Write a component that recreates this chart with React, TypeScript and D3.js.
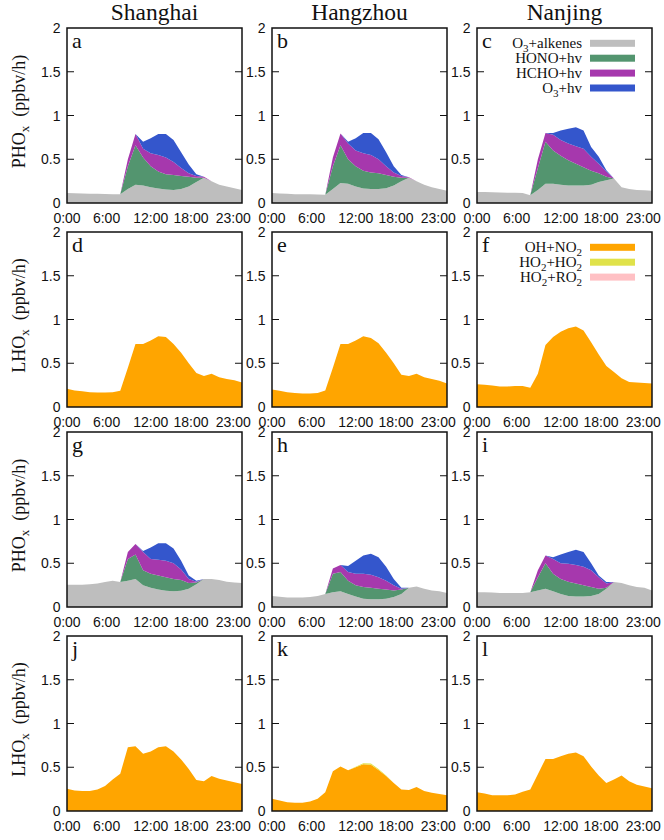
import React from 'react';
import * as d3 from 'd3';

// ---------- data ----------
const hours = [0,1,2,3,4,5,6,7,8,9,10,11,12,13,14,15,16,17,18,19,20,21,22,23];
const cities = ['Shanghai', 'Hangzhou', 'Nanjing'];
const yTicks = [0, 0.5, 1, 1.5, 2];
const yTickLabels = ['0', '0.5', '1', '1.5', '2'];
const xTickHours = [0, 5.2, 11, 16.3, 21.85];
const xTickLabels = ['0:00', '6:00', '12:00', '18:00', '23:00'];

const phoxKeys = ['O3+alkenes', 'HONO+hv', 'HCHO+hv', 'O3+hv'];
const lhoxKeys = ['OH+NO2', 'HO2+HO2', 'HO2+RO2'];

// PHOx panels a,b,c (top row)
const aAlk = [0.115,0.112,0.11,0.107,0.105,0.103,0.10,0.10,0.16,0.21,0.20,0.18,0.165,0.155,0.15,0.16,0.19,0.24,0.29,0.25,0.21,0.19,0.17,0.15];
const aHono = [0,0,0,0,0,0,0,0,0.26,0.45,0.32,0.24,0.195,0.175,0.17,0.15,0.11,0.05,0,0,0,0,0,0];
const aHcho = [0,0,0,0,0,0,0,0,0.08,0.13,0.10,0.15,0.19,0.19,0.15,0.09,0.04,0.02,0.01,0,0,0,0,0];
const aO3 = [0,0,0,0,0,0,0,0,0,0,0.08,0.17,0.24,0.27,0.25,0.18,0.10,0.02,0,0,0,0,0,0];

const bAlk = [0.115,0.11,0.105,0.10,0.10,0.10,0.098,0.095,0.16,0.23,0.22,0.19,0.165,0.16,0.16,0.17,0.20,0.25,0.29,0.25,0.21,0.18,0.16,0.14];
const bHono = [0,0,0,0,0,0,0,0,0.26,0.43,0.28,0.23,0.205,0.19,0.18,0.15,0.10,0.04,0,0,0,0,0,0];
const bHcho = [0,0,0,0,0,0,0,0,0.10,0.135,0.18,0.18,0.20,0.20,0.16,0.10,0.05,0.02,0.005,0,0,0,0,0];
const bO3 = [0,0,0,0,0,0,0,0,0,0,0.02,0.14,0.23,0.25,0.23,0.16,0.07,0.01,0,0,0,0,0,0];

const cAlk = [0.126,0.125,0.122,0.12,0.118,0.117,0.115,0.09,0.15,0.22,0.22,0.21,0.20,0.20,0.20,0.21,0.24,0.26,0.28,0.18,0.16,0.15,0.145,0.14];
const cHono = [0,0,0,0,0,0,0,0,0.25,0.48,0.38,0.33,0.29,0.25,0.21,0.16,0.10,0.04,0,0,0,0,0,0];
const cHcho = [0,0,0,0,0,0,0,0,0.10,0.10,0.18,0.18,0.19,0.20,0.21,0.16,0.11,0.06,0,0,0,0,0,0];
const cO3 = [0,0,0,0,0,0,0,0,0,0,0.02,0.11,0.17,0.215,0.21,0.11,0.08,0.015,0,0,0,0,0,0];

// LHOx panels d,e,f
const dNo2 = [0.21,0.19,0.18,0.17,0.165,0.165,0.17,0.185,0.45,0.72,0.72,0.76,0.81,0.80,0.72,0.62,0.50,0.39,0.355,0.38,0.34,0.32,0.305,0.28];
const eNo2 = [0.20,0.185,0.17,0.16,0.155,0.155,0.16,0.19,0.45,0.72,0.72,0.76,0.81,0.79,0.73,0.62,0.50,0.37,0.355,0.38,0.34,0.32,0.30,0.27];
const fNo2 = [0.26,0.255,0.245,0.235,0.235,0.24,0.24,0.22,0.38,0.71,0.80,0.86,0.90,0.92,0.875,0.74,0.60,0.47,0.40,0.33,0.285,0.28,0.275,0.27];

// PHOx panels g,h,i
const gAlk = [0.255,0.255,0.255,0.26,0.27,0.285,0.30,0.285,0.30,0.32,0.25,0.22,0.20,0.185,0.18,0.185,0.21,0.26,0.32,0.32,0.31,0.29,0.28,0.275];
const gHono = [0,0,0,0,0,0,0,0,0.25,0.28,0.17,0.16,0.16,0.155,0.14,0.125,0.065,0.02,0,0,0,0,0,0];
const gHcho = [0,0,0,0,0,0,0,0,0.08,0.12,0.21,0.17,0.18,0.19,0.18,0.12,0.045,0.01,0,0,0,0,0,0];
const gO3 = [0,0,0,0,0,0,0,0,0,0,0.01,0.13,0.19,0.20,0.17,0.10,0.04,0.01,0,0,0,0,0,0];

const hAlk = [0.125,0.118,0.11,0.11,0.11,0.115,0.125,0.15,0.17,0.18,0.15,0.12,0.095,0.09,0.09,0.095,0.115,0.15,0.22,0.235,0.21,0.19,0.18,0.16];
const hHono = [0,0,0,0,0,0,0,0,0.21,0.22,0.15,0.13,0.135,0.13,0.12,0.105,0.075,0.05,0,0,0,0,0,0];
const hHcho = [0,0,0,0,0,0,0,0,0.06,0.08,0.10,0.13,0.15,0.15,0.13,0.10,0.06,0.01,0,0,0,0,0,0];
const hO3 = [0,0,0,0,0,0,0,0,0,0,0.07,0.15,0.21,0.24,0.23,0.16,0.07,0.01,0,0,0,0,0,0];

const iAlk = [0.17,0.168,0.165,0.16,0.16,0.16,0.16,0.17,0.19,0.21,0.18,0.15,0.125,0.12,0.12,0.125,0.15,0.21,0.285,0.275,0.25,0.23,0.22,0.19];
const iHono = [0,0,0,0,0,0,0,0,0.15,0.29,0.20,0.17,0.165,0.15,0.13,0.105,0.06,0.01,0,0,0,0,0,0];
const iHcho = [0,0,0,0,0,0,0,0,0.08,0.09,0.17,0.18,0.205,0.21,0.21,0.19,0.13,0.05,0,0,0,0,0,0];
const iO3 = [0,0,0,0,0,0,0,0,0,0,0.02,0.10,0.135,0.175,0.17,0.08,0.02,0.015,0,0,0,0,0,0];

// LHOx panels j,k,l
const jNo2 = [0.255,0.235,0.23,0.23,0.245,0.285,0.36,0.425,0.73,0.74,0.655,0.68,0.73,0.74,0.68,0.59,0.48,0.355,0.34,0.40,0.37,0.35,0.33,0.31];
const kNo2 = [0.14,0.12,0.10,0.095,0.095,0.11,0.14,0.215,0.455,0.51,0.465,0.50,0.535,0.53,0.47,0.40,0.32,0.245,0.24,0.275,0.23,0.21,0.195,0.18];
const kHo2 = [0,0,0,0,0,0,0,0,0,0,0,0.005,0.01,0.012,0.01,0.005,0,0,0,0,0,0,0,0];
const lNo2 = [0.215,0.20,0.18,0.18,0.18,0.19,0.22,0.245,0.42,0.595,0.595,0.625,0.655,0.67,0.625,0.51,0.405,0.32,0.36,0.405,0.34,0.30,0.28,0.26];
const noFlux = [0,0,0,0,0,0,0,0,0,0,0,0,0,0,0,0,0,0,0,0,0,0,0,0];

// ---------- style / layout ----------
const phoxColors = ['#bebebe', '#53956f', '#a638ad', '#3456cc'];
const lhoxColors = ['#ffa500', '#e0e24a', '#ffc0c4'];
const SERIF = '"Liberation Serif", "Times New Roman", serif';
const SANS = '"Liberation Sans", Arial, sans-serif';

const colLeft = [67, 272, 477];
const rowTop = [28, 232, 432, 636];
const PW = 175;
const PH = 175;

type Panel = { id: string; row: number; col: number; kind: 'P' | 'L'; series: number[][]; legend?: boolean };

const panels: Panel[] = [
  { id: 'a', row: 0, col: 0, kind: 'P', series: [aAlk, aHono, aHcho, aO3] },
  { id: 'b', row: 0, col: 1, kind: 'P', series: [bAlk, bHono, bHcho, bO3] },
  { id: 'c', row: 0, col: 2, kind: 'P', series: [cAlk, cHono, cHcho, cO3], legend: true },
  { id: 'd', row: 1, col: 0, kind: 'L', series: [dNo2, noFlux, noFlux] },
  { id: 'e', row: 1, col: 1, kind: 'L', series: [eNo2, noFlux, noFlux] },
  { id: 'f', row: 1, col: 2, kind: 'L', series: [fNo2, noFlux, noFlux], legend: true },
  { id: 'g', row: 2, col: 0, kind: 'P', series: [gAlk, gHono, gHcho, gO3] },
  { id: 'h', row: 2, col: 1, kind: 'P', series: [hAlk, hHono, hHcho, hO3] },
  { id: 'i', row: 2, col: 2, kind: 'P', series: [iAlk, iHono, iHcho, iO3] },
  { id: 'j', row: 3, col: 0, kind: 'L', series: [jNo2, noFlux, noFlux] },
  { id: 'k', row: 3, col: 1, kind: 'L', series: [kNo2, kHo2, noFlux] },
  { id: 'l', row: 3, col: 2, kind: 'L', series: [lNo2, noFlux, noFlux] },
];

// Label with subscripts: parts of [text, isSub]
function SubText({ parts, subSize }: { parts: [string, boolean][]; subSize: number }) {
  const out: React.ReactNode[] = [];
  let prevSub = false;
  parts.forEach(([t, sub], i) => {
    let dy = 0;
    if (sub && !prevSub) dy = 4;
    if (!sub && prevSub) dy = -4;
    out.push(
      <tspan key={i} dy={dy} fontSize={sub ? subSize : undefined}>{t}</tspan>
    );
    prevSub = sub;
  });
  return <>{out}</>;
}

const phoxLegend: [string, boolean][][] = [
  [['O', false], ['3', true], ['+alkenes', false]],
  [['HONO+hv', false]],
  [['HCHO+hv', false]],
  [['O', false], ['3', true], ['+hv', false]],
];
const lhoxLegend: [string, boolean][][] = [
  [['OH+NO', false], ['2', true]],
  [['HO', false], ['2', true], ['+HO', false], ['2', true]],
  [['HO', false], ['2', true], ['+RO', false], ['2', true]],
];

function PanelView({ p }: { p: Panel }) {
  const left = colLeft[p.col];
  const top = rowTop[p.row];
  const x = d3.scaleLinear().domain([0, 23]).range([left, left + PW]);
  const y = d3.scaleLinear().domain([0, 2]).range([top + PH, top]);
  const keys = p.kind === 'P' ? phoxKeys : lhoxKeys;
  const colors = p.kind === 'P' ? phoxColors : lhoxColors;
  const table = hours.map((h, i) => {
    const row: any = { hour: h };
    keys.forEach((k, j) => { row[k] = p.series[j][i]; });
    return row;
  });
  const stacked = d3.stack<any>().keys(keys)(table);
  const area = d3.area<any>()
    .x((d) => x(d.data.hour))
    .y0((d) => y(d[0]))
    .y1((d) => y(d[1]));
  const clipId = `clip-${p.id}`;
  const legendParts = p.kind === 'P' ? phoxLegend : lhoxLegend;
  return (
    <g>
      <defs>
        <clipPath id={clipId}>
          <rect x={left} y={top} width={PW} height={PH} />
        </clipPath>
      </defs>
      <g clipPath={`url(#${clipId})`}>
        {stacked.map((s, i) => (
          <path key={i} d={area(s) || ''} fill={colors[i]} stroke="none" />
        ))}
      </g>
      {/* y ticks */}
      {yTicks.slice(1, -1).map((t) => (
        <g key={t}>
          <line x1={left} x2={left + 7} y1={y(t)} y2={y(t)} stroke="#111" strokeWidth={1} />
          <line x1={left + PW - 7} x2={left + PW} y1={y(t)} y2={y(t)} stroke="#111" strokeWidth={1} />
        </g>
      ))}
      {yTicks.map((t, i) => (
        <text key={t} x={left - 6.5} y={y(t) + 5} textAnchor="end" fontFamily={SANS} fontSize={14} fill="#111">
          {yTickLabels[i]}
        </text>
      ))}
      {xTickHours.map((h, i) => (
        <text key={h} x={x(h)} y={top + PH + 19.5} textAnchor="middle" fontFamily={SANS} fontSize={14} fill="#111">
          {xTickLabels[i]}
        </text>
      ))}
      <rect x={left} y={top} width={PW} height={PH} fill="none" stroke="#111" strokeWidth={1.5} />
      <text x={left + 5} y={top + 20} fontFamily={SERIF} fontSize={22} fill="#111">{p.id}</text>
      {p.legend && legendParts.map((parts, i) => {
        const cy = top + 15.3 + i * 14.9;
        return (
          <g key={i}>
            <text x={left + 105} y={cy + 5} textAnchor="end" fontFamily={SERIF} fontSize={15} fill="#111">
              <SubText parts={parts} subSize={11} />
            </text>
            <rect x={left + 113} y={cy - 3.5} width={45} height={7} fill={colors[i]} />
          </g>
        );
      })}
    </g>
  );
}

export default function App() {
  return (
    <svg width={664} height={840} style={{ position: 'absolute', left: 0, top: 0, background: '#fff' }}>
      <rect x={0} y={0} width={664} height={840} fill="#fff" />
      {cities.map((c, i) => (
        <text key={c} x={colLeft[i] + PW / 2} y={20} textAnchor="middle" fontFamily={SERIF} fontSize={23.5} fill="#111">
          {c}
        </text>
      ))}
      {rowTop.map((t, r) => (
        <text key={r} transform={`translate(25,${t + PH / 2 - 4}) rotate(-90)`} textAnchor="middle" fontFamily={SERIF} fontSize={18} fill="#111">
          <tspan>{r % 2 === 0 ? 'PHO' : 'LHO'}</tspan>
          <tspan dy={4} fontSize={13}>x</tspan>
          <tspan dy={-4} dx={9}>(ppbv/h)</tspan>
        </text>
      ))}
      {panels.map((p) => <PanelView key={p.id} p={p} />)}
    </svg>
  );
}
